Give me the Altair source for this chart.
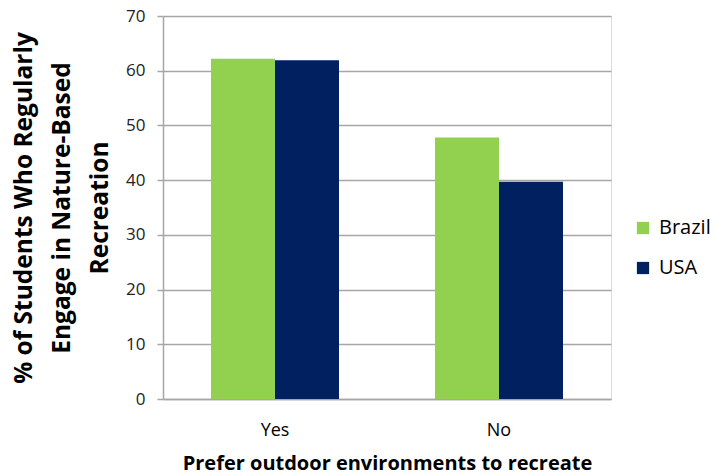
import altair as alt
import pandas as pd

# Share of students engaging in nature-based recreation, by preference and country
categories = ["Yes", "No"]
countries = ["Brazil", "USA"]
brazil = [62.2, 47.8]
usa = [61.9, 39.7]

rows = []
for i, cat in enumerate(categories):
    rows.append({"pref": cat, "country": "Brazil", "value": brazil[i]})
    rows.append({"pref": cat, "country": "USA", "value": usa[i]})
df = pd.DataFrame(rows)

FONT = "Open Sans"

chart = alt.Chart(df).mark_bar().encode(
    x=alt.X(
        "pref:N",
        sort=categories,
        scale=alt.Scale(paddingInner=0.4286, paddingOuter=0.2143),
        axis=alt.Axis(
            title="Prefer outdoor environments to recreate",
            titleFont=FONT, titleFontSize=20, titleFontWeight="bold",
            titleColor="#000000", titlePadding=14,
            labelFont=FONT, labelFontSize=18, labelColor="#000000",
            labelAngle=0, labelPadding=22,
            ticks=False, domainColor="#a6a6a6", domainWidth=1.5,
        ),
    ),
    xOffset=alt.XOffset("country:N", sort=countries, scale=alt.Scale(paddingInner=0, paddingOuter=0)),
    y=alt.Y(
        "value:Q",
        scale=alt.Scale(domain=[0, 70]),
        axis=alt.Axis(
            values=[0, 10, 20, 30, 40, 50, 60, 70],
            title=["% of Students Who Regularly", "Engage in Nature-Based", "Recreation"],
            titleFont=FONT, titleFontSize=24.5, titleFontWeight="bold",
            titleColor="#000000", titleLineHeight=38, titlePadding=13,
            labelFont=FONT, labelFontSize=17, labelColor="#222222", labelPadding=12,
            tickSize=6, tickColor="#a6a6a6", tickWidth=1.5,
            gridColor="#a6a6a6", gridWidth=1.5,
            domainColor="#a6a6a6", domainWidth=1.5,
        ),
    ),
    color=alt.Color(
        "country:N",
        sort=countries,
        scale=alt.Scale(domain=countries, range=["#92D050", "#002060"]),
        legend=alt.Legend(
            title=None, orient="none", legendX=470, legendY=202,
            symbolType="square", symbolSize=150, symbolStrokeWidth=0,
            labelFont=FONT, labelFontSize=20, labelColor="#000000",
            rowPadding=20, labelOffset=6,
        ),
    ),
).properties(
    width=448, height=383,
    padding={"left": 163, "top": 16, "right": 104, "bottom": 76},
    autosize=alt.AutoSizeParams(type="none"),
).configure_view(stroke=None).configure(background="white")

chart.save("out.html", embed_options={"renderer": "svg", "actions": False})
